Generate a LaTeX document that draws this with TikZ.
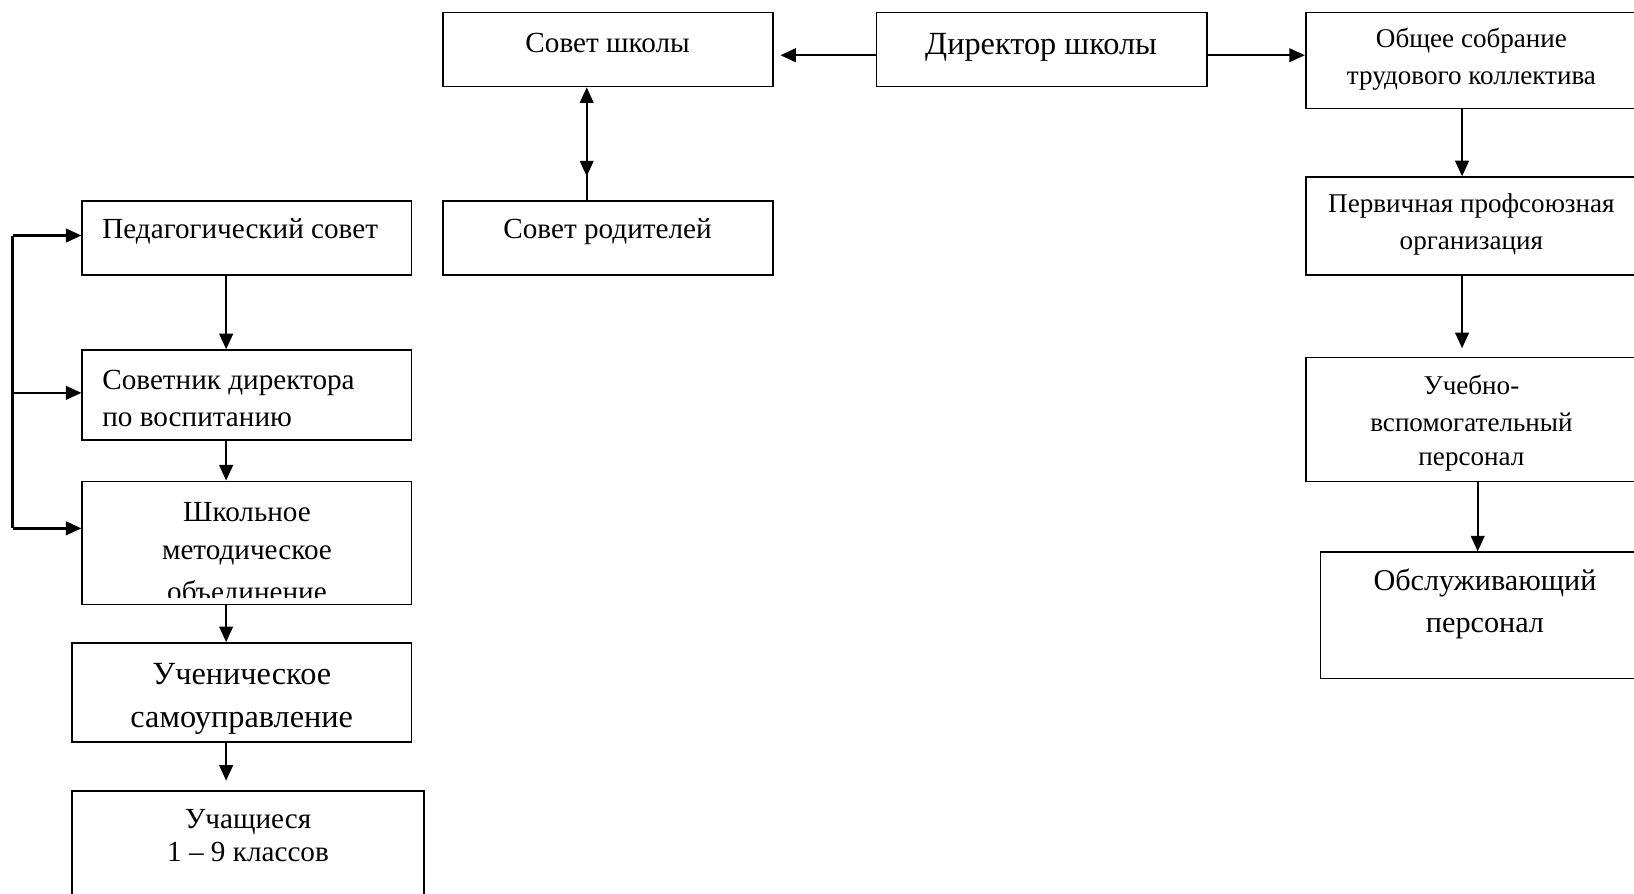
\documentclass[tikz,border=0pt]{standalone}
\usepackage{fontspec}
\setmainfont{Liberation Serif}
\usetikzlibrary{arrows.meta,fit,decorations.markings}
\tikzset{
 box/.style={draw, line width=1.6pt, inner sep=0pt},
 arr/.style={line width=2.3pt, -{Triangle[length=15pt,width=13pt]}},
 conn/.style={line width=2.3pt},
 midarr/.style={postaction={decorate, decoration={markings, mark=at position 0.35 with {\arrow{Triangle[length=15pt,width=13pt,reversed]}}}}},
 tx/.style={anchor=base, inner sep=0pt, font=\fontsize{28}{34}\selectfont},
 txw/.style={anchor=base west, inner sep=0pt, font=\fontsize{28}{34}\selectfont},
 txs/.style={anchor=base, inner sep=0pt, font=\fontsize{26}{32}\selectfont},
 txl/.style={anchor=base, inner sep=0pt, font=\fontsize{31}{38}\selectfont},
 txm/.style={anchor=base, inner sep=0pt, font=\fontsize{29}{36}\selectfont},
}
\begin{document}
\begin{tikzpicture}[x=1pt,y=-1pt]
\clip (0,0) rectangle (1568,857);
% boxes
\node[box, fit={(425,12) (742,83)}] (sovet) {};
\node[box, fit={(841,12) (1158,83)}] (director) {};
\node[box, fit={(1253,12) (1580,104)}] (obshee) {};
\node[box, fit={(425,193) (742,264)}] (roditel) {};
\node[box, fit={(1253,170) (1580,264)}] (perv) {};
\node[box, fit={(1253,343) (1580,462)}] (ucheb) {};
\node[box, fit={(1267,530) (1580,651)}] (obsl) {};
\node[box, fit={(79,193) (395,264)}] (ped) {};
\node[box, fit={(79,336) (395,422)}] (sovetnik) {};
\node[box, fit={(79,462) (395,580)}] (shkol) {};
\node[box, fit={(69,617) (395,712)}] (uchen) {};
\node[box, fit={(69,759) (407,880)}] (uchash) {};
% texts
\node[tx] (t-sovet) at (583,50) {Совет школы};
\node[txl] (t-dir) at (999,52) {Директор школы};
\node[txs] (t-ob1) at (1412,46) {Общее собрание};
\node[txs] (t-ob2) at (1412,81) {трудового коллектива};
\node[tx] (t-rod) at (583,229) {Совет родителей};
\node[txs] (t-pe1) at (1412,204) {Первичная профсоюзная};
\node[txs] (t-pe2) at (1412,239) {организация};
\node[txs] (t-uv1) at (1412,379) {Учебно-};
\node[txs] (t-uv2) at (1412,414) {вспомогательный};
\node[txs] (t-uv3) at (1412,447) {персонал};
\node[txm] (t-os1) at (1425,567) {Обслуживающий};
\node[txm] (t-os2) at (1425,607) {персонал};
\node[txw] (t-ped) at (98,229) {Педагогический совет};
\node[txw] (t-sd1) at (98,374) {Советник директора};
\node[txw] (t-sd2) at (98,409) {по воспитанию};
\begin{scope}
\clip (shkol.north west) rectangle ([yshift=7pt]shkol.south east);
\node[tx] (t-sh1) at (237,500) {Школьное};
\node[tx] (t-sh2) at (237,537) {методическое};
\node[tx] (t-sh3) at (237,577) {объединение};
\end{scope}
\node[txl] (t-us1) at (232,657) {Ученическое};
\node[txl] (t-us2) at (232,698) {самоуправление};
\node[tx] (t-uc1) at (238,795) {Учащиеся};
\node[tx] (t-uc2) at (238,827) {1 – 9 классов};
% connectors
\draw[arr, shorten >=6pt] ([yshift=-5.5pt]director.west) -- ([yshift=-5.5pt]sovet.east);
\draw[arr] ([yshift=-5.5pt]director.east) -- ([yshift=-5.5pt]director.east -| obshee.west);
\draw[arr, midarr] ([xshift=-20.5pt]roditel.north) -- ([xshift=-20.5pt]sovet.south);
\draw[arr] ([xshift=-13.5pt]obshee.south) -- ([xshift=-13.5pt]perv.north);
\draw[arr, shorten >=8pt] ([xshift=-13.5pt]perv.south) -- ([xshift=-13.5pt]ucheb.north);
\draw[arr] ([xshift=1.5pt]ucheb.south) -- ([xshift=1.5pt]ucheb.south |- obsl.north);
\draw[arr] ([xshift=-20pt]ped.south) -- ([xshift=-20pt]sovetnik.north);
\draw[arr] ([xshift=-20pt]sovetnik.south) -- ([xshift=-20pt]shkol.north);
\draw[arr] ([xshift=-20pt]shkol.south) -- ([xshift=-20pt]shkol.south |- uchen.north);
\draw[arr, shorten >=9pt] ([xshift=-15pt]uchen.south) -- ([xshift=-15pt]uchen.south |- uchash.north);
% feedback line on the left
\coordinate (fa) at (12,226);
\coordinate (fm) at (12,377);
\coordinate (fb) at (12,507);
\draw[conn, line cap=square] (fa) -- (fb);
\draw[arr] (fa) -- (fa -| ped.west);
\draw[arr] (fm) -- (fm -| sovetnik.west);
\draw[arr] (fb) -- (fb -| shkol.west);
\end{tikzpicture}
\end{document}
